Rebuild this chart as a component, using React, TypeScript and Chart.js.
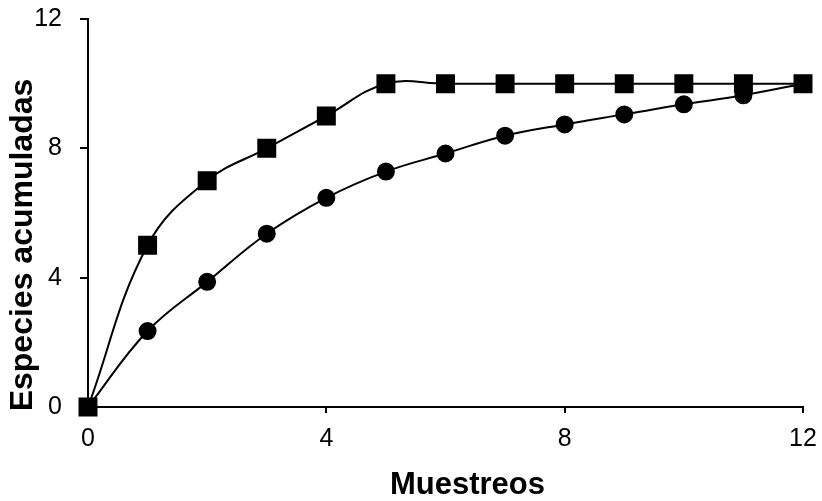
import React, { useEffect, useRef } from "react";
import { Chart, registerables } from "chart.js";

Chart.register(...registerables);

const muestreos = [0, 1, 2, 3, 4, 5, 6, 7, 8, 9, 10, 11, 12];
const especiesObservadas = [0, 5, 7, 8, 9, 10, 10, 10, 10, 10, 10, 10, 10];
const especiesEstimadas = [0, 2.35, 3.87, 5.36, 6.47, 7.28, 7.84, 8.39, 8.74, 9.05, 9.36, 9.64, 10];
const xTicks = [0, 4, 8, 12];
const yTicks = [0, 4, 8, 12];
const xTitle = "Muestreos";
const yTitle = "Especies acumuladas";

const FONT = "'Liberation Sans', Arial, sans-serif";

const axisTitles = {
  id: "axisTitles",
  afterDraw(chart: any) {
    const { ctx, chartArea } = chart;
    ctx.save();
    ctx.fillStyle = "#000";
    ctx.textAlign = "center";
    ctx.textBaseline = "alphabetic";
    ctx.font = `bold 31px ${FONT}`;
    ctx.fillText(xTitle, (chartArea.left + chartArea.right) / 2 + 22, chart.height - 7);
    ctx.translate(32, (chartArea.top + chartArea.bottom) / 2 + 32);
    ctx.rotate(-Math.PI / 2);
    ctx.font = `bold 32px ${FONT}`;
    ctx.fillText(yTitle, 0, 0);
    ctx.restore();
  },
};

export default function App() {
  const ref = useRef<HTMLCanvasElement>(null);
  useEffect(() => {
    if (!ref.current) return;
    const mk = (vals: number[]) => muestreos.map((x, i) => ({ x, y: vals[i] }));
    const chart = new Chart(ref.current, {
      type: "scatter",
      data: {
        datasets: [
          {
            label: "Observadas",
            data: mk(especiesObservadas),
            showLine: true,
            borderColor: "#000",
            backgroundColor: "#000",
            borderWidth: 2,
            pointStyle: "rect",
            pointRadius: 12,
            pointHoverRadius: 12,
            tension: 0.4,
            clip: false as any,
          },
          {
            label: "Estimadas",
            data: mk(especiesEstimadas),
            showLine: true,
            borderColor: "#000",
            backgroundColor: "#000",
            borderWidth: 2,
            pointStyle: "circle",
            pointRadius: 8,
            pointHoverRadius: 8,
            tension: 0.4,
            clip: false as any,
          },
        ],
      },
      options: {
        animation: false,
        responsive: false,
        layout: { padding: { top: 19, right: 19, bottom: 0, left: 0 } },
        plugins: { legend: { display: false }, tooltip: { enabled: false } },
        scales: {
          x: {
            type: "linear",
            min: 0,
            max: 12,
            afterBuildTicks: (s: any) => {
              s.ticks = xTicks.map((v) => ({ value: v }));
            },
            afterFit: (s: any) => {
              s.height = 94;
              s.paddingLeft = 0;
              s.paddingRight = 0;
            },
            grid: { drawOnChartArea: false, drawTicks: true, tickLength: 6, color: "#000", lineWidth: 2 },
            border: { display: true, color: "#000", width: 2 },
            ticks: { color: "#000", font: { family: FONT, size: 25 }, padding: 11, maxRotation: 0 },
            title: { display: false },
          },
          y: {
            type: "linear",
            min: 0,
            max: 12,
            afterBuildTicks: (s: any) => {
              s.ticks = yTicks.map((v) => ({ value: v }));
            },
            afterFit: (s: any) => {
              s.width = 88;
              s.paddingTop = 0;
              s.paddingBottom = 0;
            },
            grid: { drawOnChartArea: false, drawTicks: true, tickLength: 8, color: "#000", lineWidth: 2 },
            border: { display: true, color: "#000", width: 2 },
            ticks: { color: "#000", font: { family: FONT, size: 25 }, padding: 18 },
            title: { display: false },
          },
        },
      },
      plugins: [axisTitles],
    } as any);
    return () => chart.destroy();
  }, []);
  return (
    <div style={{ position: "absolute", left: 0, top: 0, width: 822, height: 501, background: "#fff" }}>
      <canvas ref={ref} width={822} height={501} />
    </div>
  );
}
